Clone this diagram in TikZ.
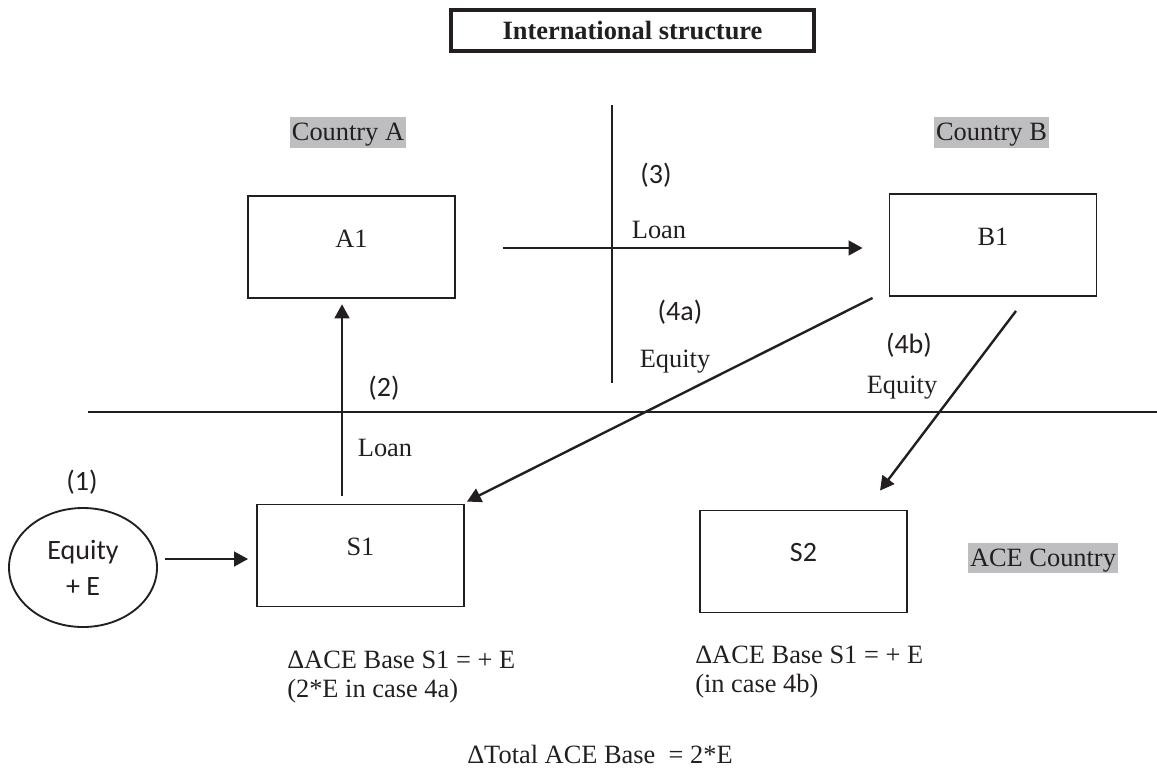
\documentclass[tikz,border=0pt]{standalone}
\usepackage{fontspec}
\setmainfont{Liberation Serif}
\newfontfamily\calib{Carlito}
\usetikzlibrary{arrows.meta,shapes.geometric,calc}
\definecolor{ink}{RGB}{35,31,32}
\definecolor{hl}{RGB}{190,190,192}
\begin{document}
\begin{tikzpicture}[x=0.75pt,y=-0.75pt,
  every node/.style={text=ink},
  tm/.style={font=\fontsize{19.8}{23}\selectfont},
  cb/.style={font=\fontsize{21}{27}\selectfont\calib},
  entity/.style={draw=ink, line width=1.4pt, minimum width=155.25pt, minimum height=76.5pt, inner sep=0pt, text height=13pt, text depth=13pt},
  hlbox/.style={fill=hl, inner xsep=1.5pt, inner ysep=0pt, text height=17.5pt, text depth=5.5pt, tm},
  titlebox/.style={draw=ink, line width=3pt, minimum width=272.25pt, minimum height=30.75pt, inner sep=0pt, font=\bfseries\fontsize{19.8}{23}\selectfont},
  divider/.style={draw=ink, line width=1.4pt},
  arr/.style={draw=ink, line width=1.8pt, -{Triangle[length=10.5pt, width=11pt]}},
  note/.style={tm, anchor=base west, inner sep=0pt}
]
\useasboundingbox (0,0) rectangle (1157,779);

% title
\node[titlebox] (title) at (632.5,30.5) {International structure};

% country labels
\node[hlbox] (cA) at (348,132.5) {Country A};
\node[hlbox] (cB) at (991.5,132.5) {Country B};
\node[hlbox] (ace) at (1043,558) {ACE Country};

% dividers
\draw[divider] (612,105) -- (612,383);
\draw[divider] (88,412) -- (1157,412);

% entities
\node[entity, tm] (A1) at (351.5,247) {A1};
\node[entity, tm] (B1) at (993,245) {B1};
\node[entity, tm] (S1) at (360.5,555.5) {S1};
\node[entity, cb] (S2) at (803.5,561.5) {S2};
\node[ellipse, draw=ink, line width=1.4pt, minimum width=111pt, minimum height=89.25pt, inner sep=0pt, align=center, cb] (eq) at (83,567.5) {Equity\\+ E};

% labels
\node[cb] (l1) at (82,482) {(1)};
\node[cb] (l2) at (384,388) {(2)};
\node[tm] (loan2) at (385,448) {Loan};
\node[cb] (l3) at (656,175) {(3)};
\node[tm] (loan3) at (659,230) {Loan};
\node[cb] (l4a) at (680,312) {(4a)};
\node[tm] (eq4a) at (675,362) {Equity};
\node[cb] (l4b) at (909,345) {(4b)};
\node[tm] (eq4b) at (902,388) {Equity};

% arrows
\draw[arr] (eq.east |- 0,559) ++(5.25pt,0) -- ([xshift=-6pt]S1.west |- 0,559);
\draw[arr, shorten <=6pt, shorten >=4pt] (S1.north -| 342,0) -- (A1.south -| 342,0);
\draw[arr, shorten <=35pt, shorten >=19.5pt] (A1.east |- 0,248) -- (B1.west |- 0,248);
\draw[arr] ([xshift=-12pt,yshift=-0.75pt]B1.south west) -- ([xshift=1.5pt,yshift=1.5pt]S1.north east);
\draw[arr] ([xshift=17.25pt,yshift=-10.5pt]B1.south) -- ([xshift=57.4pt,yshift=14.25pt]S2.north);

% notes
\node[note] (n1) at (287,668) {ΔACE Base S1 = + E};
\node[note] (n2) at (287,697) {(2*E in case 4a)};
\node[note] (n3) at (695,663) {ΔACE Base S1 = + E};
\node[note] (n4) at (695,692) {(in case 4b)};
\node[note] (tot) at (467,763) {ΔTotal ACE Base \ = 2*E};
\end{tikzpicture}
\end{document}
